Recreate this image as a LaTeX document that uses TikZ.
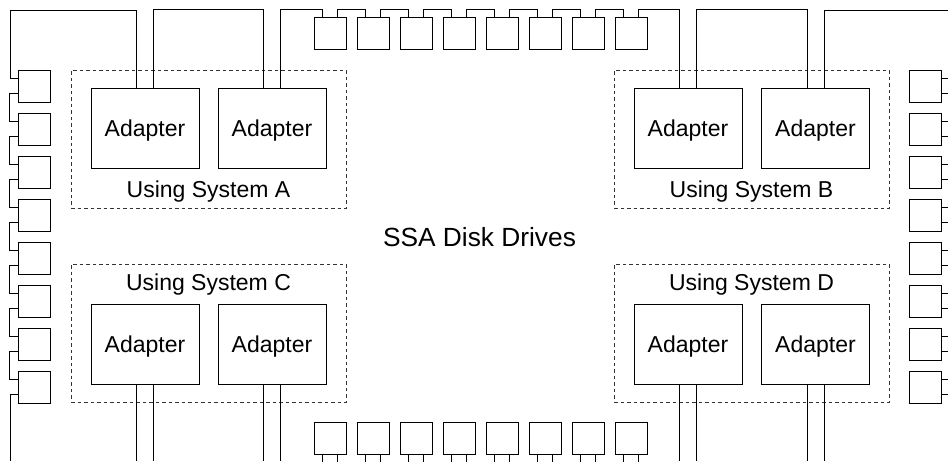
\documentclass[tikz,border=0pt]{standalone}
\usepackage{fontspec}
\setmainfont{Liberation Sans}

\tikzset{
  adapter/.style={draw, line width=.8pt, minimum width=108pt, minimum height=80pt,
    inner sep=0pt, text depth=0pt, font=\fontsize{23}{27}\selectfont},
  disk/.style={draw, line width=.8pt, minimum size=32pt, inner sep=0pt},
  group/.style={draw=black!80, line width=.8pt, dash pattern=on 3.5pt off 3pt,
    minimum width=275pt, minimum height=138pt, inner sep=0pt},
  grouplabel/.style={anchor=base, font=\fontsize{23}{27}\selectfont},
  cable/.style={line width=.8pt},
}

\begin{document}
\begin{tikzpicture}[x=1pt,y=-1pt]
\useasboundingbox (0,0) rectangle (948,461);

% rail corners:
\coordinate (nw) at (10,10);
\coordinate (ne) at (948,10);
\coordinate (sw) at (10,461);

% using systems:
\node[group] (sa) at (208.5,139) {};
\node[group] (sb) at (751.5,139) {};
\node[group] (sc) at (208.5,333) {};
\node[group] (sd) at (751.5,333) {};
\node[grouplabel] (la) at (208.5,197.7) {Using System A};
\node[grouplabel] (lb) at (751.5,197.7) {Using System B};
\node[grouplabel] (lc) at (208.5,290) {Using System C};
\node[grouplabel] (ld) at (751.5,290) {Using System D};

% adapters:
\node[adapter] (a1) at (145,128) {Adapter};
\node[adapter] (a2) at (272,128) {Adapter};
\node[adapter] (b1) at (688,128) {Adapter};
\node[adapter] (b2) at (815.5,128) {Adapter};
\node[adapter] (c1) at (145,344) {Adapter};
\node[adapter] (c2) at (272,344) {Adapter};
\node[adapter] (d1) at (688,344) {Adapter};
\node[adapter] (d2) at (815.5,344) {Adapter};

\node[anchor=base, font=\fontsize{26.3}{30}\selectfont] (ssa) at (479.5,246.7) {SSA Disk Drives};

% disks:
\foreach \i in {1,...,8}{
  \node[disk] (l\i) at (34,43*\i+43) {};
  \node[disk] (r\i) at (925,43*\i+43) {};
  \node[disk] (t\i) at (43*\i+287,33) {};
  \node[disk] (u\i) at (43*\i+287,438.5) {};
}

% left loop:
\draw[cable] ([xshift=-8.5pt]a1.north) |- (nw) |- ([yshift=7.5pt]l1.west);
\foreach \i [count=\j from 2] in {1,...,7}
  \draw[cable] ([yshift=-7.5pt]l\i.west) -- ++(-8,0) |- ([yshift=7.5pt]l\j.west);
\draw[cable] ([yshift=-7.5pt]l8.west) -| (sw);

% top loop:
\draw[cable] ([xshift=8.5pt]a1.north) -- ++(0,-78) -| ([xshift=-8.5pt]a2.north);
\draw[cable] ([xshift=-7.5pt]t1.north) -- ++(0,-7) -| ([xshift=8.5pt]a2.north);
\foreach \i [count=\j from 2] in {1,...,7}
  \draw[cable] ([xshift=7.5pt]t\i.north) -- ++(0,-7) -| ([xshift=-7.5pt]t\j.north);
\draw[cable] ([xshift=7.5pt]t8.north) -- ++(0,-7) -| ([xshift=-8.5pt]b1.north);
\draw[cable] ([xshift=8.5pt]b1.north) -- ++(0,-78) -| ([xshift=-8.5pt]b2.north);
\draw[cable] ([xshift=8.5pt]b2.north) |- (ne);

% right and bottom stubs:
\foreach \i in {1,...,8}{
  \draw[cable] ([yshift=7.5pt]r\i.east) -- ++(7,0);
  \draw[cable] ([yshift=-7.5pt]r\i.east) -- ++(7,0);
  \draw[cable] ([xshift=-7.5pt]u\i.south) -- ++(0,7);
  \draw[cable] ([xshift=7.5pt]u\i.south) -- ++(0,7);
}
\foreach \a in {c1,c2,d1,d2}{
  \draw[cable] ([xshift=-8.5pt]\a.south) -- ++(0,77);
  \draw[cable] ([xshift=8.5pt]\a.south) -- ++(0,77);
}
\end{tikzpicture}
\end{document}
